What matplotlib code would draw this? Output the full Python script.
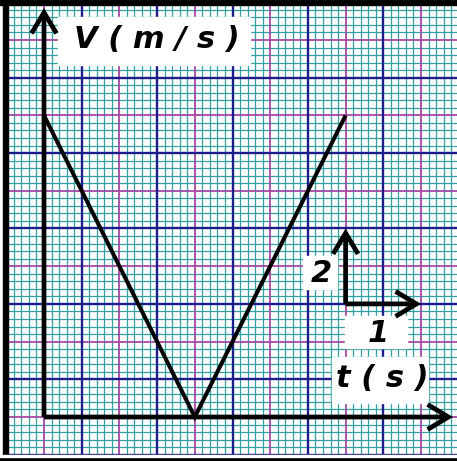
import numpy as np
import matplotlib.pyplot as plt
from matplotlib.patches import FancyArrowPatch, Rectangle

# v-t graph data (t in s, V in m/s)
t = [0, 2, 4]
v = [8, 0, 8]

# scale marker: 1 s horizontally, 2 m/s vertically
scale_origin = (4, 3)
scale_dt = 1
scale_dv = 2

# pixel mapping of the reference (origin at px (44, 417))
W, H = 457, 461
x0_px, y0_px = 44, 417
px_per_s = 75.4
px_per_v = 37.7


def px2d(px, py):
    return (px - x0_px) / px_per_s, (y0_px - py) / px_per_v


fig = plt.figure(figsize=(W / 100, H / 100), dpi=100)
ax = fig.add_axes([0, 0, 1, 1])
xmin, ymax = px2d(0, 0)
xmax, ymin = px2d(W, H)
ax.set_xlim(xmin, xmax)
ax.set_ylim(ymin, ymax)
ax.axis('off')

teal = '#30a0a0'
magenta = '#a548a5'
navy = '#1c1c8a'

# graph paper
for k in range(-5, 55):
    xv = k * 0.1
    if k % 10 == 0:
        c, lw, z = magenta, 1.3, 2
    elif k % 5 == 0:
        c, lw, z = navy, 1.7, 3
    else:
        c, lw, z = teal, 0.9, 1
    ax.plot([xv, xv], [ymin, ymax], color=c, lw=lw, zorder=z, solid_capstyle='butt')
for k in range(-5, 56):
    yv = k * 0.2
    if k % 10 == 0:
        c, lw, z = magenta, 1.3, 2
    elif k % 5 == 0:
        c, lw, z = navy, 1.7, 3
    else:
        c, lw, z = teal, 0.9, 1
    ax.plot([xmin, xmax], [yv, yv], color=c, lw=lw, zorder=z, solid_capstyle='butt')

# page frame: white strip on the left, thick black left/top/bottom
ax.add_patch(Rectangle((0, 0), 3 / W, 1, transform=ax.transAxes, color='white', zorder=4))
ax.add_patch(Rectangle((3 / W, 0), 4.5 / W, 1, transform=ax.transAxes, color='black', zorder=5))
ax.add_patch(Rectangle((0, 1 - 5 / H), 1, 5 / H, transform=ax.transAxes, color='black', zorder=5))
ax.add_patch(Rectangle((0, 0), 1, 4.5 / H, transform=ax.transAxes, color='black', zorder=5))
ax.add_patch(Rectangle((0, 4.5 / H), 1, 1.5 / H, transform=ax.transAxes, color='white', zorder=5))


def arrow(p0, p1, lw=3.4):
    a = FancyArrowPatch(p0, p1, arrowstyle='->,head_length=1.5,head_width=0.9',
                        mutation_scale=10, lw=lw, color='black',
                        shrinkA=0, shrinkB=0, zorder=8, joinstyle='miter', capstyle='butt')
    ax.add_patch(a)


# axes
arrow((0, 0), (0, px2d(0, 8)[1]))
arrow((0, 0), (px2d(453, 0)[0], 0))

# scale marker
sx, sy = scale_origin
arrow((sx, sy), (sx, sy + scale_dv))
arrow((sx, sy), (sx + scale_dt, sy))

# data line
ax.plot(t, v, color='black', lw=2.9, zorder=7, solid_capstyle='butt', solid_joinstyle='miter')


def label(txt, box, center):
    (bx0, by0, bx1, by1) = box
    x_a, y_a = px2d(bx0, by1)
    x_b, y_b = px2d(bx1, by0)
    ax.add_patch(Rectangle((x_a, y_a), x_b - x_a, y_b - y_a, color='white', zorder=6))
    cx, cy = px2d(*center)
    ax.text(cx, cy, txt, fontsize=22, fontweight='bold', fontstyle='italic',
            ha='center', va='center', zorder=9, family='DejaVu Sans')


label('V ( m / s )', (58, 17, 250, 65), (157, 40))
label('2', (303, 256, 337, 289), (321, 273))
label('1', (345, 316, 407, 348), (378, 333))
label('t ( s )', (332, 357, 428, 403), (382, 378))

fig.savefig('out.png', dpi=100)
